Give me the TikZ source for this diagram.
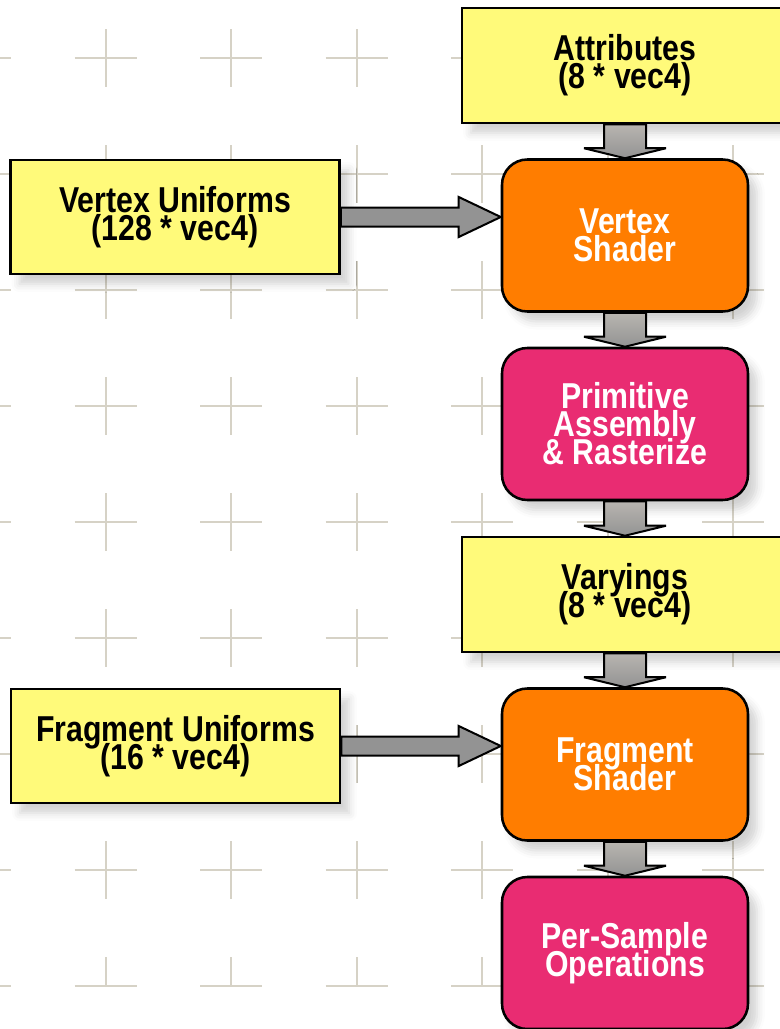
\documentclass[tikz,border=0pt]{standalone}
\usepackage{fontspec}
\newfontfamily\boxfont{Liberation Sans}[FakeStretch=0.84]
\usetikzlibrary{calc,shadows.blur}

\definecolor{bufferyellow}{RGB}{255,250,122}
\definecolor{shaderorange}{RGB}{255,125,0}
\definecolor{fixedpink}{RGB}{233,44,114}
\definecolor{pipegray}{RGB}{147,147,147}
\definecolor{pipetop}{RGB}{184,181,176}
\definecolor{gridline}{RGB}{214,210,198}

\newcommand{\boxtext}{\boxfont\bfseries\fontsize{27}{21}\selectfont
  \lineskiplimit=-100pt\relax\lineskip=0pt\relax}
% fat arrow from the bottom of #1 down to the top of #2
\newcommand{\vpipe}[2]{%
  \draw[pipe,top color=pipetop,bottom color=pipegray]
    ($(#1.south)+(-21,0)$) -- ($(#2.north)+(-21,-10)$) -- ($(#2.north)+(-41,-10)$)
    -- (#2.north) -- ($(#2.north)+(41,-10)$) -- ($(#2.north)+(21,-10)$)
    -- ($(#1.south)+(21,0)$) -- cycle;}
% fat arrow from the side of #1 across to the left edge of #2
\newcommand{\hpipe}[2]{%
  \coordinate (#1tip) at (#2.west |- #1.east);
  \draw[pipe,fill=pipegray]
    ($(#1.east)+(0,-9.5)$) -- ($(#1tip)+(-42,-9.5)$) -- ($(#1tip)+(-42,-20)$)
    -- (#1tip) -- ($(#1tip)+(-42,20)$) -- ($(#1tip)+(-42,9.5)$)
    -- ($(#1.east)+(0,9.5)$) -- cycle;}

\begin{document}
\begin{tikzpicture}[x=0.75pt,y=-0.75pt,
  gridmark/.style={gridline,line width=1.5pt},
  box/.style={draw=black,line width=1.9pt,align=center,inner sep=0pt,
    font=\boxtext,
    blur shadow={shadow xshift=6.75pt,shadow yshift=-7.5pt,
      shadow blur radius=6pt,shadow opacity=18}},
  buffer/.style={box,fill=bufferyellow,minimum width=244.5pt,minimum height=86.25pt},
  uniform/.style={box,fill=bufferyellow,minimum width=246.75pt,minimum height=85.5pt},
  shader/.style={box,fill=shaderorange,text=white,rounded corners=19pt,
    minimum width=184.5pt,minimum height=114pt},
  fixedfn/.style={shader,fill=fixedpink},
  pipe/.style={draw=black,line width=1.5pt,miter limit=4}]
  \useasboundingbox (0,0) rectangle (780,1029);

  % background crosses
  \foreach \gx in {-20,105.5,...,860}{
    \foreach \gy in {58,174,...,870}
      \draw[gridmark] (\gx-31,\gy) -- (\gx+31,\gy) (\gx,\gy-29) -- (\gx,\gy+29);
    \draw[gridmark] (\gx-31,986) -- (\gx+31,986) (\gx,986) -- (\gx,957);
  }

  \node[buffer] (attr) at (625,65.5) {Attributes\\(8 * vec4)};
  \node[uniform] (vu) at (175,217) {Vertex Uniforms\\(128 * vec4)};
  \node[shader] (vs) at (625,235.5) {Vertex\\Shader};
  \node[fixedfn] (pa) at (625,424) {Primitive\\Assembly\\\& Rasterize};
  \node[buffer] (var) at (625,594.5) {Varyings\\(8 * vec4)};
  \node[uniform] (fu) at (175.5,746) {Fragment Uniforms\\(16 * vec4)};
  \node[shader] (fs) at (625,764.5) {Fragment\\Shader};
  \node[fixedfn] (ps) at (625,953) {Per-Sample\\Operations};

  \vpipe{attr}{vs}
  \vpipe{vs}{pa}
  \vpipe{pa}{var}
  \vpipe{var}{fs}
  \vpipe{fs}{ps}
  \hpipe{vu}{vs}
  \hpipe{fu}{fs}
\end{tikzpicture}
\end{document}
